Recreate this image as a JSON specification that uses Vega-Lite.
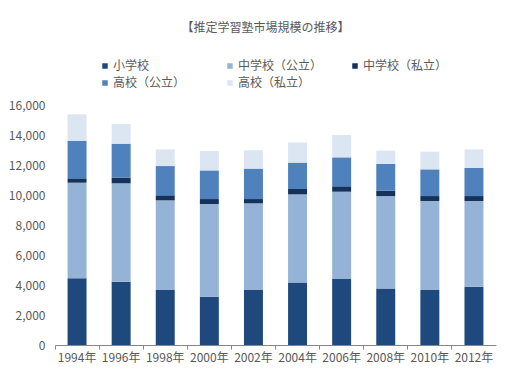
{
  "$schema": "https://vega.github.io/schema/vega-lite/v6.json",
  "width": 441,
  "height": 240,
  "autosize": {"type": "none"},
  "padding": {"left": 55, "top": 105, "right": 35, "bottom": 34},
  "background": "white",
  "config": {
    "view": {"stroke": null},
    "font": "Noto Sans CJK JP"
  },
  "title": {
    "text": "【推定学習塾市場規模の推移】",
    "fontSize": 12,
    "fontWeight": "normal",
    "color": "#595959",
    "offset": 25,
    "dx": -10
  },
  "data": {
    "values": [
      {"year": "1994年", "cat": "小学校", "o": 1, "v": 4450},
      {"year": "1994年", "cat": "中学校（公立）", "o": 2, "v": 6370},
      {"year": "1994年", "cat": "中学校（私立）", "o": 3, "v": 290},
      {"year": "1994年", "cat": "高校（公立）", "o": 4, "v": 2510},
      {"year": "1994年", "cat": "高校（私立）", "o": 5, "v": 1760},
      {"year": "1996年", "cat": "小学校", "o": 1, "v": 4220},
      {"year": "1996年", "cat": "中学校（公立）", "o": 2, "v": 6560},
      {"year": "1996年", "cat": "中学校（私立）", "o": 3, "v": 380},
      {"year": "1996年", "cat": "高校（公立）", "o": 4, "v": 2260},
      {"year": "1996年", "cat": "高校（私立）", "o": 5, "v": 1310},
      {"year": "1998年", "cat": "小学校", "o": 1, "v": 3670},
      {"year": "1998年", "cat": "中学校（公立）", "o": 2, "v": 5970},
      {"year": "1998年", "cat": "中学校（私立）", "o": 3, "v": 340},
      {"year": "1998年", "cat": "高校（公立）", "o": 4, "v": 1950},
      {"year": "1998年", "cat": "高校（私立）", "o": 5, "v": 1110},
      {"year": "2000年", "cat": "小学校", "o": 1, "v": 3220},
      {"year": "2000年", "cat": "中学校（公立）", "o": 2, "v": 6180},
      {"year": "2000年", "cat": "中学校（私立）", "o": 3, "v": 330},
      {"year": "2000年", "cat": "高校（公立）", "o": 4, "v": 1910},
      {"year": "2000年", "cat": "高校（私立）", "o": 5, "v": 1290},
      {"year": "2002年", "cat": "小学校", "o": 1, "v": 3670},
      {"year": "2002年", "cat": "中学校（公立）", "o": 2, "v": 5770},
      {"year": "2002年", "cat": "中学校（私立）", "o": 3, "v": 290},
      {"year": "2002年", "cat": "高校（公立）", "o": 4, "v": 2030},
      {"year": "2002年", "cat": "高校（私立）", "o": 5, "v": 1220},
      {"year": "2004年", "cat": "小学校", "o": 1, "v": 4160},
      {"year": "2004年", "cat": "中学校（公立）", "o": 2, "v": 5880},
      {"year": "2004年", "cat": "中学校（私立）", "o": 3, "v": 360},
      {"year": "2004年", "cat": "高校（公立）", "o": 4, "v": 1760},
      {"year": "2004年", "cat": "高校（私立）", "o": 5, "v": 1350},
      {"year": "2006年", "cat": "小学校", "o": 1, "v": 4400},
      {"year": "2006年", "cat": "中学校（公立）", "o": 2, "v": 5820},
      {"year": "2006年", "cat": "中学校（私立）", "o": 3, "v": 360},
      {"year": "2006年", "cat": "高校（公立）", "o": 4, "v": 1930},
      {"year": "2006年", "cat": "高校（私立）", "o": 5, "v": 1490},
      {"year": "2008年", "cat": "小学校", "o": 1, "v": 3760},
      {"year": "2008年", "cat": "中学校（公立）", "o": 2, "v": 6170},
      {"year": "2008年", "cat": "中学校（私立）", "o": 3, "v": 360},
      {"year": "2008年", "cat": "高校（公立）", "o": 4, "v": 1780},
      {"year": "2008年", "cat": "高校（私立）", "o": 5, "v": 890},
      {"year": "2010年", "cat": "小学校", "o": 1, "v": 3670},
      {"year": "2010年", "cat": "中学校（公立）", "o": 2, "v": 5930},
      {"year": "2010年", "cat": "中学校（私立）", "o": 3, "v": 330},
      {"year": "2010年", "cat": "高校（公立）", "o": 4, "v": 1780},
      {"year": "2010年", "cat": "高校（私立）", "o": 5, "v": 1180},
      {"year": "2012年", "cat": "小学校", "o": 1, "v": 3890},
      {"year": "2012年", "cat": "中学校（公立）", "o": 2, "v": 5710},
      {"year": "2012年", "cat": "中学校（私立）", "o": 3, "v": 330},
      {"year": "2012年", "cat": "高校（公立）", "o": 4, "v": 1870},
      {"year": "2012年", "cat": "高校（私立）", "o": 5, "v": 1240}
    ]
  },
  "mark": {"type": "bar", "width": {"band": 0.43}},
  "encoding": {
    "x": {
      "field": "year",
      "type": "nominal",
      "sort": null,
      "scale": {"paddingInner": 0, "paddingOuter": 0},
      "axis": {
        "title": null,
        "labelAngle": 0,
        "labelFontSize": 12,
        "labelColor": "#595959",
        "labelPadding": 3,
        "bandPosition": 0,
        "domainColor": "#868686",
        "tickColor": "#868686",
        "tickSize": 4
      }
    },
    "y": {
      "field": "v",
      "type": "quantitative",
      "stack": "zero",
      "scale": {"domain": [0, 16000]},
      "axis": {
        "title": null,
        "values": [0, 2000, 4000, 6000, 8000, 10000, 12000, 14000, 16000],
        "format": ",d",
        "grid": false,
        "domain": false,
        "ticks": false,
        "labelFontSize": 12,
        "labelColor": "#595959",
        "labelPadding": 10
      }
    },
    "order": {"field": "o", "type": "quantitative"},
    "color": {
      "field": "cat",
      "type": "nominal",
      "scale": {
        "domain": ["小学校", "中学校（公立）", "中学校（私立）", "高校（公立）", "高校（私立）"],
        "range": ["#1f497d", "#95b3d7", "#14325a", "#4f81bd", "#dce6f2"]
      },
      "legend": {
        "title": null,
        "orient": "none",
        "legendX": 44,
        "legendY": -45,
        "direction": "horizontal",
        "columns": 3,
        "gridAlign": "all",
        "columnPadding": 26,
        "rowPadding": 5,
        "symbolType": "square",
        "symbolSize": 30,
        "symbolStrokeWidth": 0,
        "labelFontSize": 12,
        "labelColor": "#595959",
        "labelOffset": 2
      }
    }
  }
}
